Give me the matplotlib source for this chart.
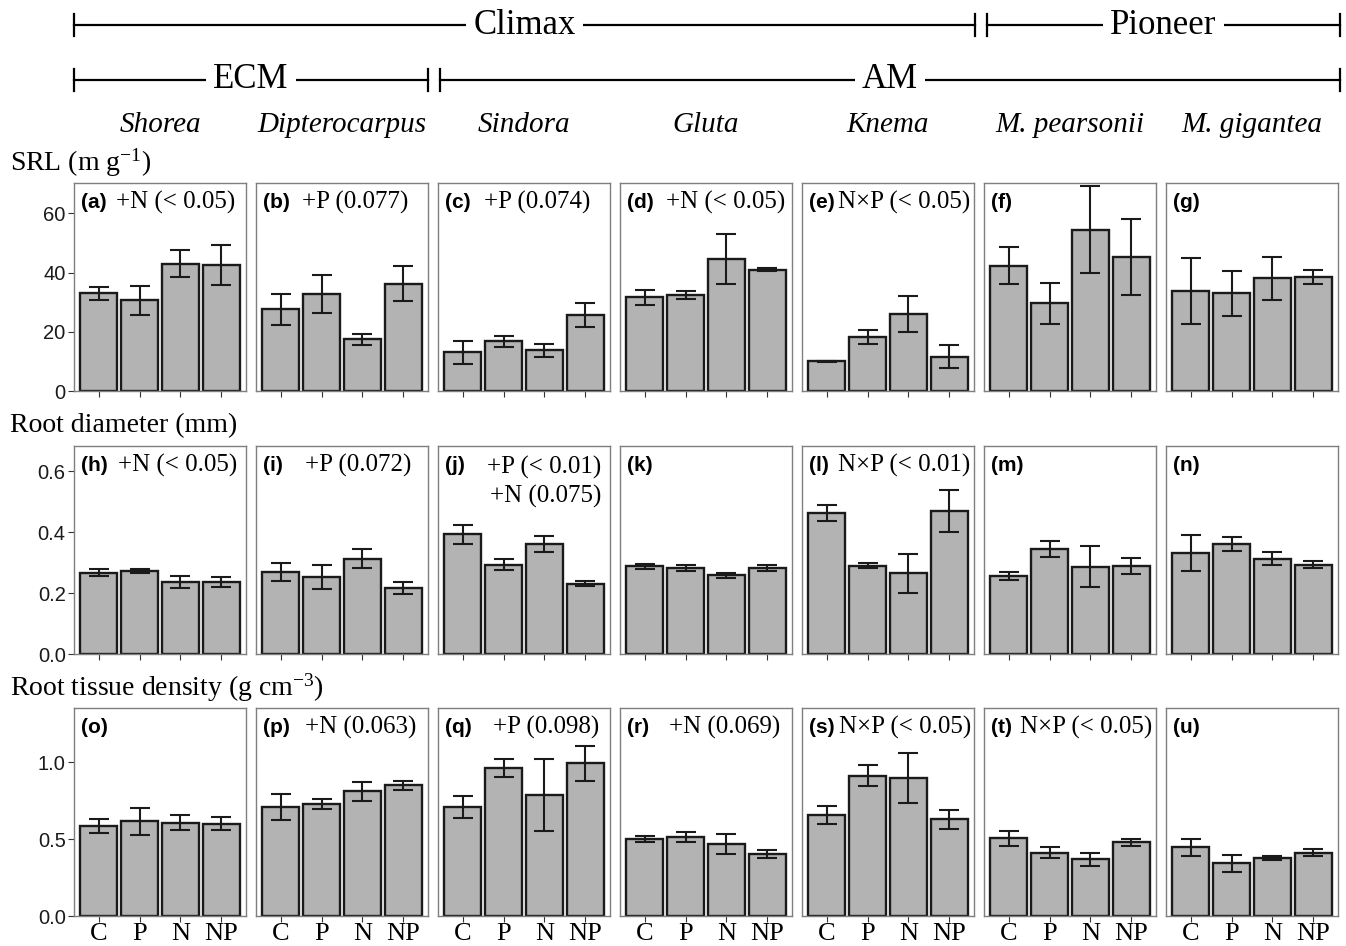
import numpy as np
import matplotlib.pyplot as plt

plt.rcParams['mathtext.default'] = 'regular'

SERIF = 'Liberation Serif'
SANS = 'Liberation Sans'

treatments = ['C', 'P', 'N', 'NP']
species = ['Shorea', 'Dipterocarpus', 'Sindora', 'Gluta', 'Knema',
           'M. pearsonii', 'M. gigantea']

# specific root length (m g-1), mean and SE, order C, P, N, NP
srl_mean = [[33.0, 30.7, 43.0, 42.6],
            [27.7, 32.7, 17.5, 36.3],
            [13.1, 16.8, 13.8, 25.7],
            [31.7, 32.5, 44.7, 41.0],
            [10.0, 18.3, 26.0, 11.6],
            [42.3, 29.6, 54.5, 45.3],
            [33.9, 33.0, 38.1, 38.5]]
srl_se = [[2.15, 4.95, 4.6, 6.8],
          [5.25, 6.45, 1.85, 5.85],
          [3.85, 1.95, 2.15, 4.05],
          [2.55, 1.4, 8.4, 0.5],
          [0.15, 2.35, 6.0, 3.9],
          [6.3, 6.8, 14.75, 12.7],
          [11.15, 7.7, 7.3, 2.3]]

# root diameter (mm)
diam_mean = [[0.267, 0.273, 0.236, 0.235],
             [0.269, 0.252, 0.313, 0.217],
             [0.393, 0.293, 0.362, 0.231],
             [0.287, 0.282, 0.258, 0.282],
             [0.462, 0.290, 0.264, 0.469],
             [0.256, 0.345, 0.286, 0.288],
             [0.332, 0.361, 0.313, 0.293]]
diam_se = [[0.0125, 0.007, 0.0185, 0.016],
           [0.0305, 0.0405, 0.032, 0.0205],
           [0.031, 0.018, 0.0265, 0.0095],
           [0.0085, 0.010, 0.0085, 0.0085],
           [0.0265, 0.0095, 0.063, 0.0675],
           [0.0125, 0.026, 0.067, 0.0265],
           [0.059, 0.022, 0.022, 0.011]]

# root tissue density (g cm-3)
rtd_mean = [[0.584, 0.614, 0.607, 0.599],
            [0.705, 0.727, 0.811, 0.848],
            [0.708, 0.963, 0.784, 0.991],
            [0.501, 0.514, 0.468, 0.403],
            [0.654, 0.911, 0.898, 0.628],
            [0.505, 0.412, 0.367, 0.480],
            [0.445, 0.341, 0.378, 0.412]]
rtd_se = [[0.0445, 0.089, 0.0485, 0.0435],
          [0.0845, 0.0315, 0.0615, 0.0305],
          [0.070, 0.058, 0.2345, 0.1135],
          [0.0185, 0.0305, 0.0635, 0.024],
          [0.0575, 0.069, 0.162, 0.0635],
          [0.0475, 0.034, 0.039, 0.0225],
          [0.053, 0.0555, 0.0145, 0.0205]]

row_labels = ['SRL (m g$^{-1}$)', 'Root diameter (mm)',
              'Root tissue density (g cm$^{-3}$)']
letters = 'abcdefghijklmnopqrstu'
notes = [['+N (< 0.05)', '+P (0.077)', '+P (0.074)', '+N (< 0.05)',
          'N×P (< 0.05)', '', ''],
         ['+N (< 0.05)', '+P (0.072)', '+P (< 0.01)\n+N (0.075)', '',
          'N×P (< 0.01)', '', ''],
         ['', '+N (0.063)', '+P (0.098)', '+N (0.069)',
          'N×P (< 0.05)', 'N×P (< 0.05)', '']]
# where each note starts, pixels from the panel's left edge
note_dx = [[42, 46, 46, 46, 36, 0, 0],
           [44, 49, 49, 0, 36, 0, 0],
           [0, 49, 55, 49, 37, 36, 0]]

means = [srl_mean, diam_mean, rtd_mean]
ses = [srl_se, diam_se, rtd_se]
ytop = [70.3, 0.682, 1.351]
yticks = [[0, 20, 40, 60], [0.0, 0.2, 0.4, 0.6], [0.0, 0.5, 1.0]]
yfmt = ['{:.0f}', '{:.1f}', '{:.1f}']

W, H = 1346, 946
fig = plt.figure(figsize=(W / 100, H / 100), dpi=100)

# pixel layout of the panel grid
left0, step, pw = 74, 182, 172
row_top = [183, 446, 708]
ph = 208

over = fig.add_axes([0, 0, 1, 1], zorder=5)
over.set_xlim(0, W)
over.set_ylim(H, 0)
over.axis('off')

x = np.arange(len(treatments))
for r in range(3):
    for c in range(7):
        lx = left0 + step * c
        ax = fig.add_axes([lx / W, 1 - (row_top[r] + ph) / H, pw / W, ph / H])
        ax.bar(x, means[r][c], width=0.9, color='#b3b3b3',
               edgecolor='#1a1a1a', linewidth=1.7, zorder=2)
        ax.errorbar(x, means[r][c], yerr=ses[r][c], fmt='none',
                    ecolor='#1a1a1a', elinewidth=1.5, capsize=7.2,
                    capthick=1.5, zorder=3)
        ax.set_xlim(-0.6, 3.6)
        ax.set_ylim(0, ytop[r])
        for s in ax.spines.values():
            s.set_color('#7f7f7f')
            s.set_linewidth(1.0)
        ax.set_xticks(x)
        ax.tick_params(axis='x', length=4, width=0.8, color='#333333', pad=1)
        if r == 2:
            ax.set_xticklabels(treatments, fontfamily=SERIF, fontsize=19)
        else:
            ax.set_xticklabels([])
        ax.set_yticks(yticks[r])
        if c == 0:
            ax.set_yticklabels([yfmt[r].format(v) for v in yticks[r]],
                               fontfamily=SANS, fontsize=14.5, color='#1a1a1a')
            ax.tick_params(axis='y', length=4, width=0.8, color='#333333', pad=2)
        else:
            ax.tick_params(axis='y', length=0)
            ax.set_yticklabels([])

        ty = row_top[r] + 19
        over.text(lx + 7, ty, '(' + letters[r * 7 + c] + ')', fontfamily=SANS,
                  fontweight='bold', fontsize=15, ha='left', va='center')
        note = notes[r][c]
        if note:
            if '\n' in note:
                over.text(lx + note_dx[r][c], ty - 9, note, fontfamily=SERIF,
                          fontsize=18, ha='left', va='top',
                          multialignment='right', linespacing=1.35)
            else:
                over.text(lx + note_dx[r][c], ty, note, fontfamily=SERIF,
                          fontsize=18, ha='left', va='center')

# row titles
for r, lab in enumerate(row_labels):
    over.text(10, row_top[r] - 20, lab, fontfamily=SERIF, fontsize=20,
              ha='left', va='center')

# species names
for c, sp in enumerate(species):
    over.text(left0 + step * c + pw / 2, 125, sp, fontfamily=SERIF,
              fontstyle='italic', fontsize=21, ha='center', va='center')

# group brackets
def bracket(x0, x1, y, label):
    over.plot([x0, x1], [y, y], color='black', lw=1.6)
    over.plot([x0, x0], [y - 11, y + 11], color='black', lw=1.6)
    over.plot([x1, x1], [y - 11, y + 11], color='black', lw=1.6)
    over.text((x0 + x1) / 2, y, label, fontfamily=SERIF, fontsize=25,
              ha='center', va='center',
              bbox=dict(facecolor='white', edgecolor='none', pad=5))

bracket(74, 975, 25, 'Climax')
bracket(987, 1340, 25, 'Pioneer')
bracket(74, 428, 80, 'ECM')
bracket(440, 1340, 80, 'AM')

fig.savefig('out.png', dpi=100)
